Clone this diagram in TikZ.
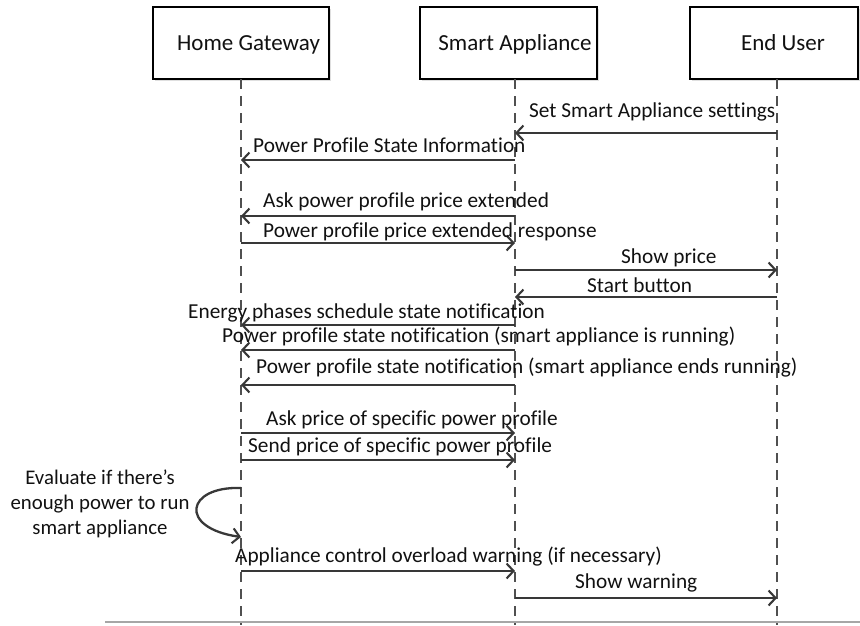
\documentclass[tikz,border=0pt]{standalone}
\usepackage{fontspec}
\setmainfont{Carlito}[Ligatures={NoCommon}]
\usetikzlibrary{arrows.meta,shadows}
\definecolor{ln}{HTML}{383838}
\definecolor{lf}{HTML}{505050}
\definecolor{tx}{HTML}{111111}
\begin{document}
\begin{tikzpicture}[x=1pt,y=-1pt,
  box/.style={draw=black,line width=2.8pt,fill=white,inner sep=0pt,
    drop shadow={opacity=0.25,shadow xshift=1.5pt,shadow yshift=-1.5pt}},
  boxtxt/.style={font=\fontsize{23}{26}\selectfont,text=tx,anchor=base,inner sep=0pt},
  life/.style={draw=lf,line width=1.6pt,dash pattern=on 10pt off 7pt},
  msg/.style={draw=ln,line width=2.3pt,-{Straight Barb[length=7pt,width=15pt,line width=2.1pt]}},
  lbl/.style={font=\fontsize{21.3}{24}\selectfont,text=tx,anchor=base west,inner sep=0pt},
  note/.style={font=\fontsize{20.8}{25}\selectfont,text=tx,align=center,inner sep=0pt}]
\useasboundingbox (0,0) rectangle (860,625);
% boxes
\node[box,minimum width=176pt,minimum height=72pt] (hg) at (241,43) {};
\node[box,minimum width=177pt,minimum height=72pt] (sa) at (508.5,43) {};
\node[box,minimum width=168pt,minimum height=72pt] (eu) at (774,43) {};
\node[boxtxt] (hgt) at (248.5,50) {Home Gateway};
\node[boxtxt] (sat) at (515,50) {Smart Appliance};
\node[boxtxt] (eut) at (783,50) {End User};
% lifelines
\coordinate (hgL) at (241,79);
\coordinate (saL) at (515,79);
\coordinate (euL) at (777,79);
\coordinate (bot) at (0,625);
\draw[life] (hgL) -- (hgL |- bot);
\draw[life] (saL) -- (saL |- bot);
\draw[life] (euL) -- (euL |- bot);
% bottom rule
\coordinate (rl) at (105,622);
\coordinate (rr) at (860,622);
\draw[draw=gray!70,line width=1.5pt] (rl) -- (rr);
% message levels
\coordinate (m1) at (0,133);
\coordinate (m2) at (0,160);
\coordinate (m3) at (0,216);
\coordinate (m4) at (0,243);
\coordinate (m5) at (0,270);
\coordinate (m6) at (0,297);
\coordinate (m7) at (0,325);
\coordinate (m8) at (0,350);
\coordinate (m9) at (0,385);
\coordinate (m10) at (0,433);
\coordinate (m11) at (0,460);
\coordinate (m12) at (0,571);
\coordinate (m13) at (0,598);
\draw[msg] (euL |- m1) -- (saL |- m1);
\draw[msg] (saL |- m2) -- (hgL |- m2);
\draw[msg] (saL |- m3) -- (hgL |- m3);
\draw[msg] (hgL |- m4) -- (saL |- m4);
\draw[msg] (saL |- m5) -- (euL |- m5);
\draw[msg] (euL |- m6) -- (saL |- m6);
\draw[msg] (saL |- m7) -- (hgL |- m7);
\draw[msg] (saL |- m8) -- (hgL |- m8);
\draw[msg] (saL |- m9) -- (hgL |- m9);
\draw[msg] (hgL |- m10) -- (saL |- m10);
\draw[msg] (hgL |- m11) -- (saL |- m11);
\draw[msg] (hgL |- m12) -- (saL |- m12);
\draw[msg] (saL |- m13) -- (euL |- m13);
% labels
\node[lbl] (l1) at (529,117) {Set Smart Appliance settings};
\node[lbl] (l2) at (253,152) {Power Profile State Information};
\node[lbl] (l3) at (263,207) {Ask power profile price extended};
\node[lbl] (l4) at (263,237) {Power profile price extended response};
\node[lbl] (l5) at (621,263) {Show price};
\node[lbl] (l6) at (587,292) {Start button};
\node[lbl] (l7) at (188,318) {Energy phases schedule state notification};
\node[lbl] (l8) at (222,342) {Power profile state notification (smart appliance is running)};
\node[lbl] (l9) at (256,373) {Power profile state notification (smart appliance ends running)};
\node[lbl] (l10) at (266,425) {Ask price of specific power profile};
\node[lbl] (l11) at (248,452) {Send price of specific power profile};
\node[lbl] (l12) at (235,562) {Appliance control overload warning (if necessary)};
\node[lbl] (l13) at (575,588) {Show warning};
% self evaluation loop
\coordinate (s1) at (hgL |- 0,488);
\coordinate (s2) at (hgL |- 0,537);
\draw[msg] (s1) .. controls (186,486) and (178,528) .. (s2);
\node[note] (ev) at (100,504) {Evaluate if there’s\\enough power to run\\smart appliance};
\end{tikzpicture}
\end{document}
